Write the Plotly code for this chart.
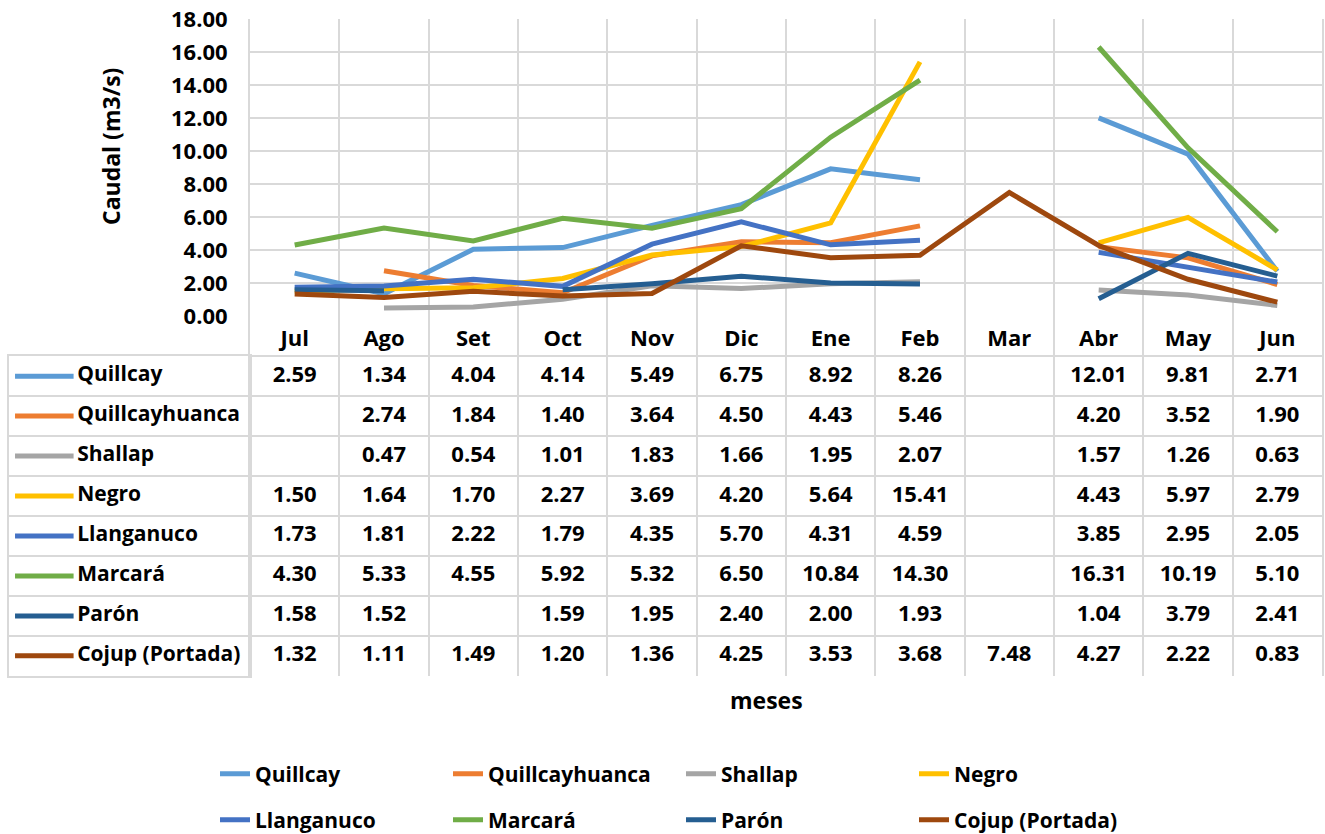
import plotly.graph_objects as go

months = ['Jul', 'Ago', 'Set', 'Oct', 'Nov', 'Dic', 'Ene', 'Feb', 'Mar', 'Abr', 'May', 'Jun']

quillcay = [2.59, 1.34, 4.04, 4.14, 5.49, 6.75, 8.92, 8.26, None, 12.01, 9.81, 2.71]
quillcayhuanca = [None, 2.74, 1.84, 1.40, 3.64, 4.50, 4.43, 5.46, None, 4.20, 3.52, 1.90]
shallap = [None, 0.47, 0.54, 1.01, 1.83, 1.66, 1.95, 2.07, None, 1.57, 1.26, 0.63]
negro = [1.50, 1.64, 1.70, 2.27, 3.69, 4.20, 5.64, 15.41, None, 4.43, 5.97, 2.79]
llanganuco = [1.73, 1.81, 2.22, 1.79, 4.35, 5.70, 4.31, 4.59, None, 3.85, 2.95, 2.05]
marcara = [4.30, 5.33, 4.55, 5.92, 5.32, 6.50, 10.84, 14.30, None, 16.31, 10.19, 5.10]
paron = [1.58, 1.52, None, 1.59, 1.95, 2.40, 2.00, 1.93, None, 1.04, 3.79, 2.41]
cojup = [1.32, 1.11, 1.49, 1.20, 1.36, 4.25, 3.53, 3.68, 7.48, 4.27, 2.22, 0.83]

series_names = ['Quillcay', 'Quillcayhuanca', 'Shallap', 'Negro', 'Llanganuco',
                'Marcará', 'Parón', 'Cojup (Portada)']
series_values = [quillcay, quillcayhuanca, shallap, negro, llanganuco, marcara, paron, cojup]
series_colors = ['#5B9BD5', '#ED7D31', '#A5A5A5', '#FFC000', '#4472C4',
                 '#70AD47', '#255E91', '#9E480E']

W, H = 1325, 834
FONT = 'Open Sans'
GRID = '#D9D9D9'


def px_x(p):
    return p / W


def px_y(p):
    return 1 - p / H


def bold(size):
    return dict(family=FONT, size=size, color='#000000', weight='bold')


fig = go.Figure()

# line chart
for i, (name, vals, col) in enumerate(zip(series_names, series_values, series_colors)):
    fig.add_trace(go.Scatter(
        x=months, y=vals, mode='lines', name=name,
        line=dict(color=col, width=5), connectgaps=False,
        xaxis='x', yaxis='y', hoverinfo='skip',
        legend='legend' if i < 4 else 'legend2',
    ))

# data table values
for i, vals in enumerate(series_values):
    xs = [m for m, v in zip(months, vals) if v is not None]
    ys = [i + 1.5 for v in vals if v is not None]
    txt = ['%.2f' % v for v in vals if v is not None]
    fig.add_trace(go.Scatter(
        x=xs, y=ys, text=txt, mode='text', xaxis='x', yaxis='y2',
        textfont=bold(22), showlegend=False, hoverinfo='skip',
    ))

# table row labels with legend keys
for i, (name, col) in enumerate(zip(series_names, series_colors)):
    fig.add_trace(go.Scatter(
        x=[0.025, 0.268], y=[i + 0.5, i + 0.5], mode='lines',
        line=dict(color=col, width=5), xaxis='x2', yaxis='y3',
        showlegend=False, hoverinfo='skip',
    ))
    fig.add_trace(go.Scatter(
        x=[0.283], y=[i + 0.5], text=[name], mode='text', textposition='middle right',
        textfont=bold(21), xaxis='x2', yaxis='y3', showlegend=False, hoverinfo='skip',
    ))

eps = 0.0005
legend_common = dict(
    orientation='h', entrywidth=188, entrywidthmode='pixels',
    font=bold(21), bgcolor='rgba(0,0,0,0)', xanchor='left', yanchor='middle',
    itemwidth=30,
)

fig.update_layout(
    width=W, height=H,
    margin=dict(l=0, r=0, t=0, b=0, autoexpand=False),
    paper_bgcolor='white', plot_bgcolor='white',
    hovermode=False,
    xaxis=dict(
        type='category', categoryorder='array', categoryarray=months,
        domain=[px_x(250), px_x(1322)], anchor='y',
        tickson='boundaries', showgrid=True, gridcolor=GRID, gridwidth=2,
        ticks='', ticklabelstandoff=7, tickfont=bold(22), ticklabeloverflow='allow',
        showline=False, zeroline=False, fixedrange=True, automargin=False,
        range=[-0.5, 11.5],
    ),
    yaxis=dict(
        domain=[px_y(316), px_y(19)], anchor='x',
        range=[0 - eps * 18, 18 + eps * 18], tick0=0, dtick=2, tickformat='.2f',
        showgrid=True, gridcolor=GRID, gridwidth=2, zeroline=False,
        showline=True, linecolor=GRID, linewidth=2, mirror=True,
        ticks='', ticklabelstandoff=16, tickfont=bold(22), ticklabeloverflow='allow',
        fixedrange=True, automargin=False,
    ),
    yaxis2=dict(
        domain=[px_y(676), px_y(316)], anchor='x',
        range=[9 + eps * 9, 0 - eps * 9], tick0=0, dtick=1,
        showgrid=True, gridcolor=GRID, gridwidth=2, zeroline=False,
        showline=True, linecolor=GRID, linewidth=2, mirror=True,
        showticklabels=False, ticks='', fixedrange=True, automargin=False,
    ),
    xaxis2=dict(
        domain=[px_x(9), px_x(250)], anchor='y3', range=[0, 1],
        showgrid=False, zeroline=False, showticklabels=False, ticks='',
        showline=True, linecolor=GRID, linewidth=2, mirror=True,
        fixedrange=True, automargin=False,
    ),
    yaxis3=dict(
        domain=[px_y(676), px_y(356)], anchor='x2',
        range=[8 + eps * 8, 0 - eps * 8], tick0=0, dtick=1,
        showgrid=True, gridcolor=GRID, gridwidth=2, zeroline=False,
        showline=True, linecolor=GRID, linewidth=2, mirror=True,
        showticklabels=False, ticks='', fixedrange=True, automargin=False,
    ),
    legend=dict(x=px_x(215), y=px_y(774), **legend_common),
    legend2=dict(x=px_x(215), y=px_y(820), **legend_common),
    annotations=[
        dict(text='Caudal (m3/s)', textangle=-90, x=px_x(111), y=px_y(147),
             xref='paper', yref='paper', xanchor='center', yanchor='middle',
             showarrow=False, font=bold(23)),
        dict(text='meses', x=px_x(766), y=px_y(700),
             xref='paper', yref='paper', xanchor='center', yanchor='middle',
             showarrow=False, font=bold(23)),
    ],
)

# remove the default 8px page margin so the figure fills the window exactly
fig.write_html('out.html', config={'displayModeBar': False},
               post_script="document.body.style.margin='0';")
